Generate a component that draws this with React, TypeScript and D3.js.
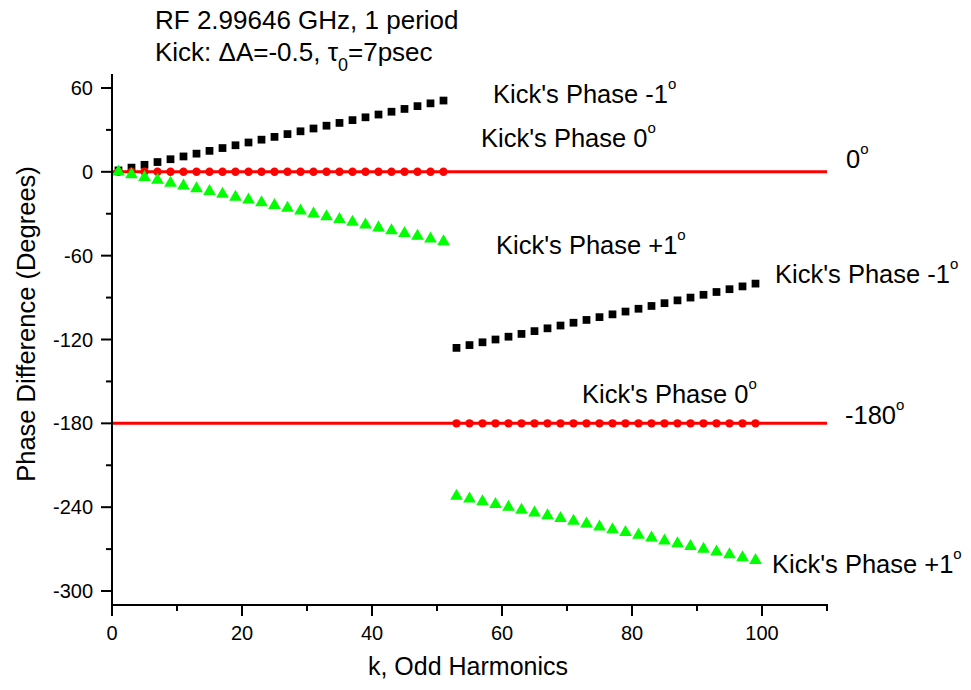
import React from "react";
import * as d3 from "d3";

// ---- data ----
const kLow = [1, 3, 5, 7, 9, 11, 13, 15, 17, 19, 21, 23, 25, 27, 29, 31, 33, 35, 37, 39, 41, 43, 45, 47, 49, 51];
const kHigh = [53, 55, 57, 59, 61, 63, 65, 67, 69, 71, 73, 75, 77, 79, 81, 83, 85, 87, 89, 91, 93, 95, 97, 99];

const phaseMinus1Low = [1, 3, 5, 7, 9, 11, 13, 15, 17, 19, 21, 23, 25, 27, 29, 31, 33, 35, 37, 39, 41, 43, 45, 47, 49, 51];
const phaseZeroLow = [0, 0, 0, 0, 0, 0, 0, 0, 0, 0, 0, 0, 0, 0, 0, 0, 0, 0, 0, 0, 0, 0, 0, 0, 0, 0];
const phasePlus1Low = [0, -2, -4, -6, -8, -10, -12, -14, -16, -18, -20, -22, -24, -26, -28, -30, -32, -34, -36, -38, -40, -42, -44, -46, -48, -50];

const phaseMinus1High = [-126, -124, -122, -120, -118, -116, -114, -112, -110, -108, -106, -104, -102, -100, -98, -96, -94, -92, -90, -88, -86, -84, -82, -80];
const phaseZeroHigh = [-180, -180, -180, -180, -180, -180, -180, -180, -180, -180, -180, -180, -180, -180, -180, -180, -180, -180, -180, -180, -180, -180, -180, -180];
const phasePlus1High = [-232, -234, -236, -238, -240, -242, -244, -246, -248, -250, -252, -254, -256, -258, -260, -262, -264, -266, -268, -270, -272, -274, -276, -278];

const referenceLevels = [0, -180];

const xMajorTicks = [0, 20, 40, 60, 80, 100];
const xMinorTicks = [10, 30, 50, 70, 90, 110];
const yMajorTicks = [60, 0, -60, -120, -180, -240, -300];
const yMinorTicks = [30, -30, -90, -150, -210, -270];

const FONT = "'Liberation Sans', Arial, Helvetica, sans-serif";

export default function App() {
  const W = 971;
  const H = 690;
  const x = d3.scaleLinear().domain([0, 110]).range([112, 827]);
  const y = d3.scaleLinear().domain([-310, 70]).range([605, 74]);

  const sq = d3.symbol().type(d3.symbolSquare).size(60)();
  const tri = d3.symbol().type(d3.symbolTriangle).size(70)();

  const line = d3
    .line<number>()
    .x((d) => x(d))
    .y(0);

  const groups = [
    { k: kLow, black: phaseMinus1Low, red: phaseZeroLow, green: phasePlus1Low },
    { k: kHigh, black: phaseMinus1High, red: phaseZeroHigh, green: phasePlus1High },
  ];

  const Deg = ({ size = 15, up = 14 }: { size?: number; up?: number }) => (
    <tspan fontSize={size} dy={-up}>o</tspan>
  );

  const label = (tx: number, ty: number, main: string, key: string) => (
    <text key={key} x={tx} y={ty} fontSize={25.5} fontFamily={FONT} fill="#000">
      {main}
      <Deg />
    </text>
  );

  return (
    <svg
      width={W}
      height={H}
      style={{ position: "absolute", left: 0, top: 0, background: "#fff" }}
    >
      <rect x={0} y={0} width={W} height={H} fill="#fff" />

      {/* reference lines */}
      {referenceLevels.map((lv) => (
        <path
          key={"ref" + lv}
          d={line([0, 110]) || ""}
          transform={`translate(0,${y(lv)})`}
          stroke="#ff0000"
          strokeWidth={3}
          fill="none"
        />
      ))}

      {/* markers */}
      {groups.map((g, gi) => (
        <g key={"g" + gi}>
          {g.k.map((k, i) => (
            <path key={"b" + i} d={sq || ""} transform={`translate(${x(k)},${y(g.black[i])})`} fill="#000" />
          ))}
          {g.k.map((k, i) => (
            <circle key={"r" + i} cx={x(k)} cy={y(g.red[i])} r={4.2} fill="#ff0000" />
          ))}
          {g.k.map((k, i) => (
            <path key={"t" + i} d={tri || ""} transform={`translate(${x(k)},${y(g.green[i])})`} fill="#00ff00" />
          ))}
        </g>
      ))}

      {/* axes */}
      <g stroke="#000" strokeWidth={2} fill="none">
        <line x1={x(0)} x2={x(0)} y1={y(70)} y2={y(-310)} />
        <line x1={x(0) - 1} x2={x(110) + 1} y1={y(-310)} y2={y(-310)} />
        {yMajorTicks.map((t) => (
          <line key={"ym" + t} x1={x(0) - 11} x2={x(0)} y1={y(t)} y2={y(t)} />
        ))}
        {yMinorTicks.map((t) => (
          <line key={"yn" + t} x1={x(0) - 6} x2={x(0)} y1={y(t)} y2={y(t)} />
        ))}
        {xMajorTicks.map((t) => (
          <line key={"xm" + t} x1={x(t)} x2={x(t)} y1={y(-310)} y2={y(-310) + 11} />
        ))}
        {xMinorTicks.map((t) => (
          <line key={"xn" + t} x1={x(t)} x2={x(t)} y1={y(-310)} y2={y(-310) + 6} />
        ))}
      </g>

      <g fontFamily={FONT} fontSize={20} fill="#000">
        {yMajorTicks.map((t) => (
          <text key={"yl" + t} x={93} y={y(t)} dy="0.35em" textAnchor="end">
            {t}
          </text>
        ))}
        {xMajorTicks.map((t) => (
          <text key={"xl" + t} x={x(t)} y={640} textAnchor="middle">
            {t}
          </text>
        ))}
      </g>

      {/* axis titles */}
      <text x={468} y={675} textAnchor="middle" fontFamily={FONT} fontSize={25} fill="#000">
        k, Odd Harmonics
      </text>
      <text
        transform={`translate(35,324) rotate(-90)`}
        textAnchor="middle"
        fontFamily={FONT}
        fontSize={25.5}
        fill="#000"
      >
        Phase Difference (Degrees)
      </text>

      {/* title */}
      <text x={155} y={29} fontFamily={FONT} fontSize={26} fill="#000">
        RF 2.99646 GHz, 1 period
      </text>
      <text x={155} y={61} fontFamily={FONT} fontSize={26} fill="#000">
        Kick: ΔA=-0.5, τ
        <tspan fontSize={18} dy={10}>0</tspan>
        <tspan dy={-10}>=7psec</tspan>
      </text>

      {/* annotations */}
      {label(493, 103, "Kick's Phase -1", "a1")}
      {label(481, 147, "Kick's Phase 0", "a2")}
      {label(496, 254, "Kick's Phase +1", "a3")}
      {label(775, 283, "Kick's Phase -1", "a4")}
      {label(582, 403, "Kick's Phase 0", "a5")}
      {label(772, 573, "Kick's Phase +1", "a6")}
      {label(846, 168, "0", "a7")}
      {label(845, 424, "-180", "a8")}
    </svg>
  );
}
